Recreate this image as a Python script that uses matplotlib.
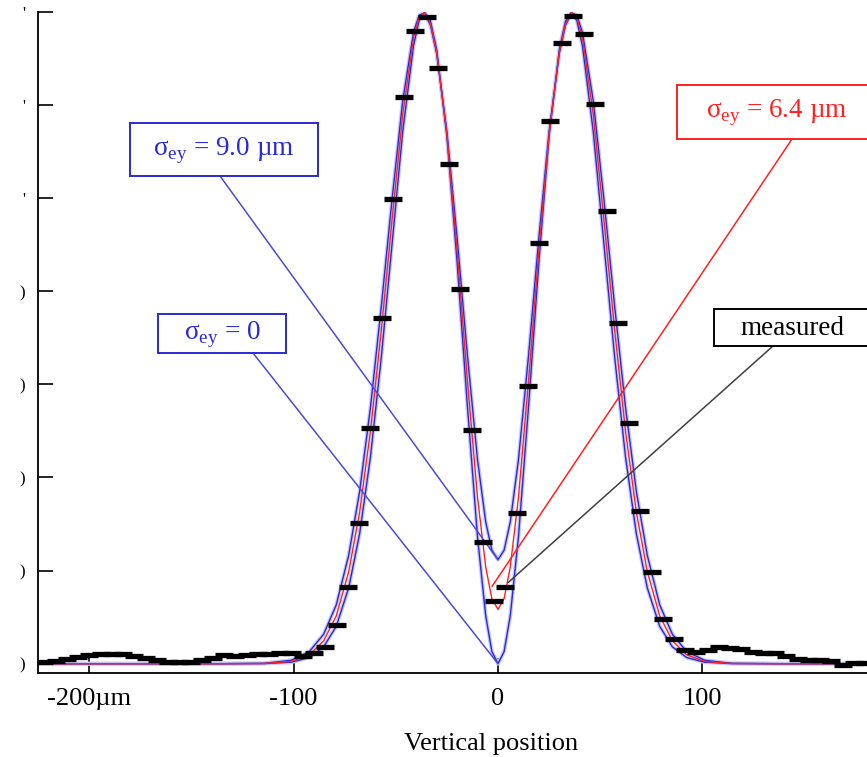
import matplotlib
matplotlib.use("Agg")
import matplotlib.pyplot as plt
from matplotlib.patches import Rectangle

plt.rcParams["font.family"] = ["Liberation Serif", "DejaVu Serif"]
plt.rcParams["mathtext.fontset"] = "custom"
plt.rcParams["mathtext.rm"] = "Liberation Serif"

# model curves (position in um, height in arb. units)
model_x = [-225, -136.3, -114.3, -101.1, -92.3, -85.3, -79.1, -73.0, -67.7, -62.4,
           -57.1, -51.8, -46.6, -41.3, -38.6, -36, -33, -30, -25, -20, -15, -10,
           -6, -3, 0, 3, 6, 10, 15, 20, 25, 30, 33, 36, 38.6, 41.3, 46.6, 51.8,
           57.1, 62.4, 67.7, 73.0, 79.1, 85.3, 92.3, 101.1, 114.3, 136.3, 181]
sigma0 = [0.0, 0.0, 0.001, 0.016, 0.066, 0.181, 0.402, 0.817, 1.394, 2.219,
          3.286, 4.512, 5.717, 6.640, 6.906, 7.0, 6.901, 6.598, 5.666, 4.313,
          2.777, 1.359, 0.514, 0.131, 0.0, 0.131, 0.514, 1.359, 2.777, 4.313,
          5.666, 6.598, 6.901, 7.0, 6.906, 6.640, 5.717, 4.512, 3.286, 2.219,
          1.394, 0.817, 0.402, 0.181, 0.066, 0.016, 0.001, 0.0, 0.0]
sigma64 = [0.0, 0.0, 0.002, 0.025, 0.095, 0.245, 0.514, 0.991, 1.625, 2.494,
           3.576, 4.771, 5.900, 6.723, 6.941, 6.998, 6.874, 6.570, 5.683, 4.440,
           3.052, 1.786, 1.037, 0.699, 0.583, 0.699, 1.037, 1.786, 3.052, 4.440,
           5.683, 6.570, 6.874, 6.998, 6.941, 6.723, 5.900, 4.771, 3.576, 2.494,
           1.625, 0.991, 0.514, 0.245, 0.095, 0.025, 0.002, 0.0, 0.0]
sigma90 = [0.0, 0.0, 0.004, 0.037, 0.130, 0.316, 0.632, 1.167, 1.847, 2.748,
           3.831, 4.990, 6.047, 6.783, 6.964, 6.992, 6.855, 6.555, 5.719, 4.577,
           3.322, 2.188, 1.521, 1.220, 1.117, 1.220, 1.521, 2.188, 3.322, 4.577,
           5.719, 6.555, 6.855, 6.992, 6.964, 6.783, 6.047, 4.990, 3.831, 2.748,
           1.847, 1.167, 0.632, 0.316, 0.130, 0.037, 0.004, 0.0, 0.0]

# measured profile
meas_x = [-221.9, -216.4, -210.9, -205.4, -199.9, -194.4, -188.9, -183.4, -177.9,
          -172.4, -166.9, -161.4, -155.9, -150.4, -144.9, -139.4, -133.9, -128.4,
          -122.9, -117.4, -111.9, -106.4, -100.9, -95.4, -89.9, -84.4, -78.9,
          -73.4, -67.9, -62.4, -56.9, -51.4, -45.9, -40.4, -34.9, -29.4, -23.9,
          -18.4, -12.9, -7.4, -1.9, 3.6, 9.1, 14.6, 20.1, 25.6, 31.1, 36.6, 42.1,
          47.6, 53.1, 58.6, 64.1, 69.6, 75.1, 80.6, 86.1, 91.6, 97.1, 102.6,
          108.1, 113.6, 119.1, 124.6, 130.1, 135.6, 141.1, 146.6, 152.1, 157.6,
          163.1, 168.6, 174.1, 179.6]
meas_y = [0.02, 0.03, 0.05, 0.07, 0.09, 0.10, 0.10, 0.10, 0.08, 0.06, 0.04, 0.02,
          0.02, 0.02, 0.04, 0.06, 0.09, 0.08, 0.09, 0.10, 0.10, 0.11, 0.11, 0.08,
          0.12, 0.18, 0.42, 0.82, 1.51, 2.53, 3.71, 4.99, 6.09, 6.80, 6.95, 6.40,
          5.37, 4.02, 2.51, 1.31, 0.67, 0.82, 1.62, 2.98, 4.52, 5.83, 6.67, 6.96,
          6.76, 6.01, 4.86, 3.66, 2.58, 1.64, 0.98, 0.48, 0.27, 0.15, 0.13, 0.15,
          0.18, 0.17, 0.16, 0.13, 0.12, 0.11, 0.08, 0.05, 0.04, 0.04, 0.03, -0.01,
          0.01, 0.01]

xticks = [-200, -100, 0, 100]
xtick_labels = ["-200\u00b5m", "-100", "0", "100"]
yticks = [0, 1, 2, 3, 4, 5, 6, 7]
ytick_labels = [")", ")", ")", ")", ")", "'", "'", "'"]

BLUE = "#2a2ad2"
RED = "#ff2020"
W, H = 867, 757

fig = plt.figure(figsize=(W / 100, H / 100), dpi=100)
ax = fig.add_axes([38 / W, 1 - 673 / H, 1 - 38 / W, (673 - 12) / H])

# blue curves drawn with a soft halo like in the original
for ys in (sigma0, sigma90):
    ax.plot(model_x, ys, color="#c8c8f4", lw=2.8, zorder=2)
    ax.plot(model_x, ys, color=BLUE, lw=1.0, zorder=3)
ax.plot(model_x, sigma64, color=RED, lw=1.0, zorder=3)

ax.plot(meas_x, meas_y, ls="none", marker="_", ms=13, mew=3.8, color="black", zorder=4)

ax.set_xlim(-225, 180.5)
ax.set_ylim(-0.1, 7.0)
ax.set_xticks(xticks, xtick_labels)
ax.set_yticks(yticks, ytick_labels)
ax.tick_params(axis="both", direction="in", length=11, width=1.2, labelsize=19)
ax.tick_params(axis="x", pad=11)
ax.tick_params(axis="y", pad=9, labelsize=12)
for s in ("top", "right"):
    ax.spines[s].set_visible(False)
for s in ("left", "bottom"):
    ax.spines[s].set_linewidth(1.3)
ax.set_xlabel("Vertical position", fontsize=19)
ax.xaxis.set_label_coords((491 - 38) / (W - 38), -0.091)


def fpos(px, py):
    # pixel position measured from the top-left -> figure fraction
    return px / W, 1 - py / H


# labelled boxes with leader lines: box (x0, y0, x1, y1) in pixels, leader start
def label(text, box, start, xy, color, lcolor):
    x0, y0, x1, y1 = box
    fig.patches.append(Rectangle(fpos(x0, y1), (x1 - x0) / W, (y1 - y0) / H,
                                 transform=fig.transFigure, fc="white", ec=color,
                                 lw=1.4, zorder=5))
    fig.text(*fpos((x0 + min(x1, W + 10)) / 2, (y0 + y1) / 2 + 1), text, ha="center",
             va="center", fontsize=19.5, color=color, zorder=6)
    ax.annotate("", xy=xy, xycoords="data", xytext=fpos(*start),
                textcoords="figure fraction",
                arrowprops=dict(arrowstyle="-", color=lcolor, lw=1.1, shrinkA=0,
                                shrinkB=0), annotation_clip=False)


label("\u03c3$_{\\mathrm{ey}}$ = 9.0 \u00b5m", (130, 123, 318, 176), (220, 176),
      (0, 1.117), BLUE, "#4a4ad8")
label("\u03c3$_{\\mathrm{ey}}$ = 0", (158, 314, 286, 353), (253, 353),
      (0, 0.0), BLUE, "#4a4ad8")
label("\u03c3$_{\\mathrm{ey}}$ = 6.4 \u00b5m", (677, 85, 877, 139), (792, 139),
      (-2.9, 0.83), RED, RED)
label("measured", (714, 309, 870, 346), (773, 346), (4.9, 0.87), "black", "#404040")

fig.savefig("out.png", dpi=100)
